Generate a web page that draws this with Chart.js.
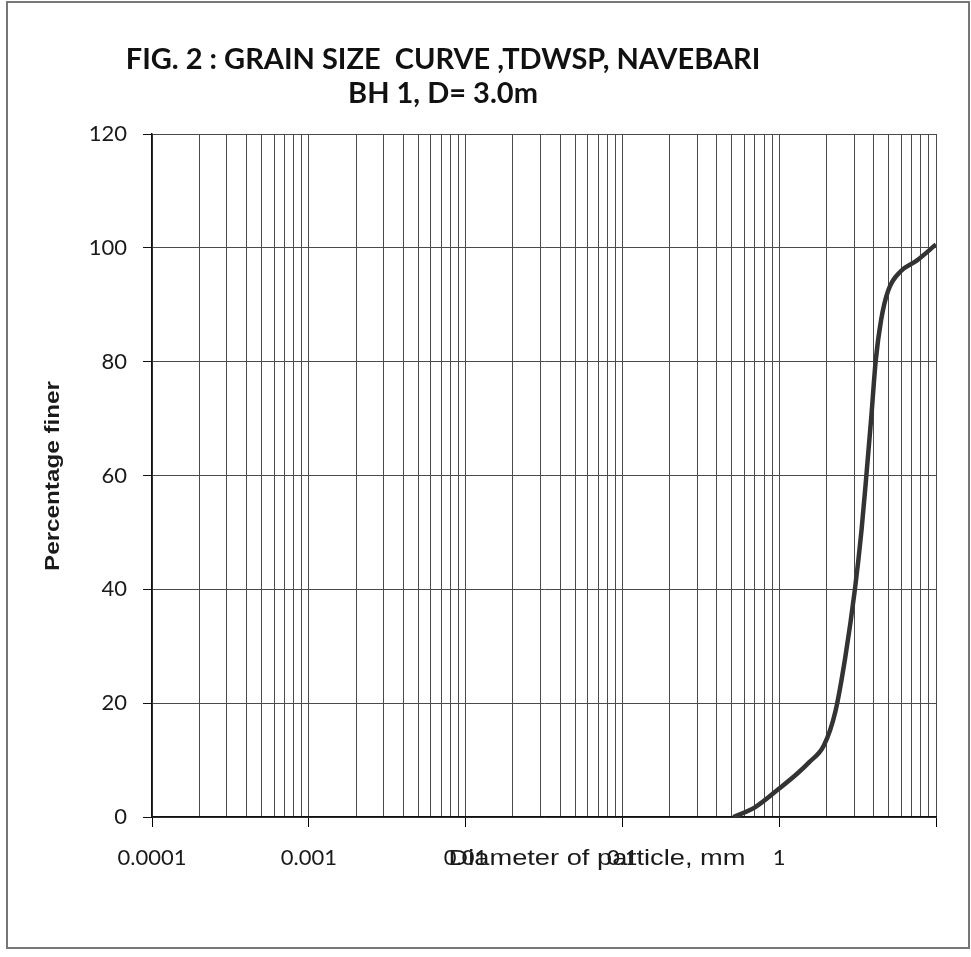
<!DOCTYPE html>
<html>
<head>
<meta charset="utf-8">
<script src="https://cdn.jsdelivr.net/npm/chart.js@4.4.1/dist/chart.umd.min.js"></script>
<style>
  html,body{margin:0;padding:0;background:#fff;}
  canvas{display:block;}
</style>
</head>
<body>
<canvas id="grainchart" width="971" height="957"></canvas>
<script>
'use strict';
// data
const diameters=[0.51,0.7,1.0,1.3,1.55,1.93,2.28,2.64,3.04,3.35,3.6,3.87,4.12,4.47,4.97,5.96,7.57,10];
const percentFiner=[0,1.7,5,7.6,9.6,12.6,18.5,28.1,40,50.4,60.1,70.4,80,87.4,92.6,95.9,97.8,100.6];
const decades=[0.0001,0.001,0.01,0.1,1,10];
const decadeLabels=['0.0001','0.001','0.01','0.1','1',''];
const yTicks=[0,20,40,60,80,100,120];
const titleLines=['FIG. 2 : GRAIN SIZE  CURVE ,TDWSP, NAVEBARI','BH 1, D= 3.0m'];
const xTitle='Diameter of particle, mm';
const yTitle='Percentage finer';

function isDecade(v){
  const l=Math.log10(v);
  return Math.abs(l-Math.round(l))<1e-9;
}

// minor grid: 1..9 in each decade
let gridValues=[];
for(let i=0;i<decades.length-1;i++){
  for(let m=1;m<=9;m++) gridValues.push(m*decades[i]);
}
gridValues.push(decades[decades.length-1]);

// draws text stretched to a given length (the scan is a bit wide)
function stretchedText(c,txt,x,y,len){
  const w=c.measureText(txt).width;
  c.save();
  c.translate(x,y);
  c.scale(len/w,1);
  c.fillText(txt,0,0);
  c.restore();
}

const textPlugin={
  id:'texts',
  afterDraw(chart){
    const c=chart.ctx;
    c.save();
    c.fillStyle='#111';
    c.textAlign='center';
    c.textBaseline='middle';
    c.font='bold 29px Lato, "Open Sans", sans-serif';
    c.fillText(titleLines[0],443,60);
    c.fillText(titleLines[1],443,94);
    c.fillStyle='#1a1a1a';
    c.font='22px "Liberation Sans", Arial, sans-serif';
    stretchedText(c,xTitle,597,859,297);
    c.translate(53,476);
    c.rotate(-Math.PI/2);
    c.font='bold 20px "Liberation Sans", Arial, sans-serif';
    stretchedText(c,yTitle,0,0,190);
    c.restore();
    // outer frame
    c.save();
    c.strokeStyle='#777';
    c.lineWidth=2;
    c.strokeRect(7,2,962,946);
    c.restore();
  }
};

const bgPlugin={
  id:'bg',
  beforeDraw(chart){
    const c=chart.ctx;
    c.save();
    c.fillStyle='#fff';
    c.fillRect(0,0,chart.width,chart.height);
    c.restore();
  }
};

let grainchart=new Chart(document.getElementById('grainchart').getContext('2d'),{
  type:'line',
  data:{
    datasets:[{
      data:diameters.map((d,i)=>({x:d,y:percentFiner[i]})),
      borderColor:'#333',
      borderWidth:4.5,
      pointRadius:0,
      cubicInterpolationMode:'monotone',
      fill:false
    }]
  },
  options:{
    responsive:false,
    animation:false,
    devicePixelRatio:1,
    layout:{padding:{left:0,top:134,right:35,bottom:0}},
    plugins:{legend:{display:false},title:{display:false},tooltip:{enabled:false}},
    scales:{
      x:{
        type:'logarithmic',
        min:0.0001,
        max:10,
        afterBuildTicks(axis){
          axis.ticks=gridValues.map(v=>({value:v,major:isDecade(v)}));
        },
        afterFit(axis){axis.height=140;},
        grid:{
          color:'#4a4a4a',
          lineWidth:1,
          tickLength:10,
          tickColor:(ctx)=>(ctx.tick && isDecade(ctx.tick.value))?'#000':'rgba(0,0,0,0)'
        },
        border:{display:true,color:'#111',width:1.5},
        ticks:{
          autoSkip:false,
          maxRotation:0,
          padding:18,
          color:'#1a1a1a',
          font:{family:'Lato, "Open Sans", sans-serif',size:22},
          callback:function(value){
            if(!isDecade(value)) return '';
            const idx=decades.findIndex(d=>Math.abs(Math.log10(d)-Math.log10(value))<1e-9);
            return idx>=0?decadeLabels[idx]:'';
          }
        }
      },
      y:{
        min:0,
        max:120,
        afterBuildTicks(axis){
          axis.ticks=yTicks.map(v=>({value:v}));
        },
        afterFit(axis){axis.width=152;},
        grid:{color:'#4a4a4a',lineWidth:1,tickLength:9,tickColor:'#111'},
        border:{display:true,color:'#111',width:1.5},
        ticks:{
          padding:16,
          color:'#1a1a1a',
          font:{family:'Lato, "Open Sans", sans-serif',size:22}
        }
      }
    }
  },
  plugins:[bgPlugin,textPlugin]
});
</script>
</body>
</html>
